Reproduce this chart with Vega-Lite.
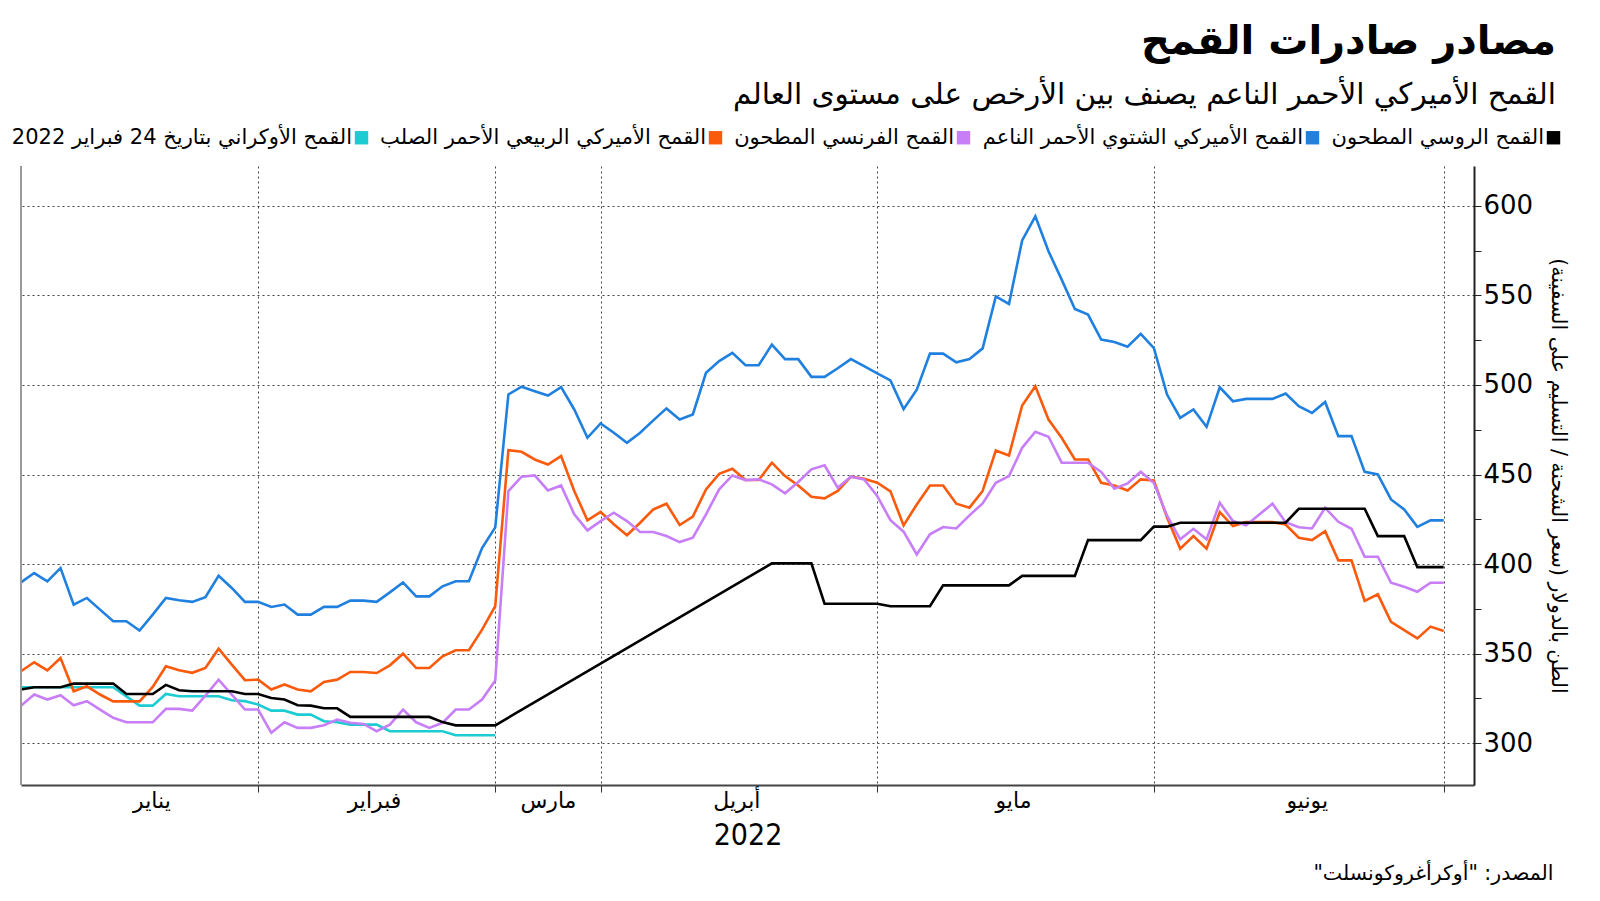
{
  "$schema": "https://vega.github.io/schema/vega-lite/v6.json",
  "width": 1453,
  "height": 619,
  "autosize": {"type": "none"},
  "padding": {"left": 21, "top": 166, "right": 126, "bottom": 116},
  "background": "white",
  "config": {"view": {"stroke": null}, "font": "DejaVu Sans"},
  "title": {
    "text": "مصادر صادرات القمح",
    "subtitle": "القمح الأميركي الأحمر الناعم يصنف بين الأرخص على مستوى العالم",
    "anchor": "end",
    "frame": "group",
    "dx": 82,
    "font": "DejaVu Sans",
    "fontSize": 40,
    "fontWeight": "bold",
    "color": "#000000",
    "subtitleFont": "DejaVu Sans",
    "subtitleFontSize": 29.5,
    "subtitleColor": "#000000",
    "subtitlePadding": 19,
    "offset": 18
  },
  "data": {
    "values": [
      {"i":0,"ru":330.0,"srw":389.8,"fr":321.0,"hrs":340.2,"ua":331.3},
      {"i":1,"ru":331.3,"srw":395.0,"fr":327.2,"hrs":345.2,"ua":331.3},
      {"i":2,"ru":331.3,"srw":390.4,"fr":324.4,"hrs":340.7,"ua":331.3},
      {"i":3,"ru":331.3,"srw":397.8,"fr":326.8,"hrs":347.6,"ua":331.3},
      {"i":4,"ru":333.3,"srw":377.4,"fr":321.2,"hrs":329.0,"ua":331.3},
      {"i":5,"ru":333.3,"srw":381.1,"fr":323.5,"hrs":331.8,"ua":331.3},
      {"i":6,"ru":333.3,"srw":374.6,"fr":318.8,"hrs":327.2,"ua":331.3},
      {"i":7,"ru":333.3,"srw":368.1,"fr":314.2,"hrs":323.4,"ua":331.3},
      {"i":8,"ru":327.5,"srw":368.1,"fr":311.7,"hrs":323.4,"ua":326.2},
      {"i":9,"ru":327.5,"srw":362.9,"fr":311.7,"hrs":323.4,"ua":321.0},
      {"i":10,"ru":327.5,"srw":371.8,"fr":311.7,"hrs":331.4,"ua":321.0},
      {"i":11,"ru":332.6,"srw":381.1,"fr":319.2,"hrs":343.0,"ua":327.5},
      {"i":12,"ru":329.6,"srw":379.8,"fr":319.2,"hrs":340.7,"ua":326.2},
      {"i":13,"ru":329.0,"srw":378.9,"fr":318.2,"hrs":339.3,"ua":326.2},
      {"i":14,"ru":329.0,"srw":381.5,"fr":326.6,"hrs":342.0,"ua":326.2},
      {"i":15,"ru":329.0,"srw":393.5,"fr":335.5,"hrs":352.8,"ua":326.2},
      {"i":16,"ru":329.0,"srw":386.7,"fr":327.2,"hrs":343.9,"ua":324.0},
      {"i":17,"ru":327.5,"srw":378.9,"fr":318.8,"hrs":335.2,"ua":323.5},
      {"i":18,"ru":327.5,"srw":378.9,"fr":318.8,"hrs":335.5,"ua":321.6},
      {"i":19,"ru":325.3,"srw":376.1,"fr":305.8,"hrs":330.0,"ua":318.2},
      {"i":20,"ru":324.4,"srw":377.4,"fr":311.7,"hrs":332.8,"ua":318.2},
      {"i":21,"ru":321.2,"srw":371.8,"fr":308.6,"hrs":330.0,"ua":316.0},
      {"i":22,"ru":321.0,"srw":371.8,"fr":308.6,"hrs":329.0,"ua":316.0},
      {"i":23,"ru":319.5,"srw":376.1,"fr":310.1,"hrs":334.2,"ua":312.3},
      {"i":24,"ru":319.5,"srw":376.1,"fr":313.2,"hrs":335.5,"ua":311.7},
      {"i":25,"ru":314.7,"srw":379.6,"fr":311.4,"hrs":339.8,"ua":310.4},
      {"i":26,"ru":314.7,"srw":379.6,"fr":310.8,"hrs":339.8,"ua":310.4},
      {"i":27,"ru":314.7,"srw":378.9,"fr":306.7,"hrs":339.2,"ua":310.4},
      {"i":28,"ru":314.7,"srw":384.2,"fr":310.4,"hrs":343.5,"ua":306.7},
      {"i":29,"ru":314.7,"srw":389.8,"fr":318.8,"hrs":350.0,"ua":306.7},
      {"i":30,"ru":314.7,"srw":382.0,"fr":311.7,"hrs":342.0,"ua":306.7},
      {"i":31,"ru":314.7,"srw":382.0,"fr":308.6,"hrs":342.0,"ua":306.7},
      {"i":32,"ru":311.8,"srw":387.6,"fr":311.4,"hrs":348.5,"ua":306.7},
      {"i":33,"ru":310.0,"srw":390.4,"fr":318.8,"hrs":351.9,"ua":304.5},
      {"i":34,"ru":310.0,"srw":390.4,"fr":318.8,"hrs":351.9,"ua":304.5},
      {"i":35,"ru":310.0,"srw":409.0,"fr":324.4,"hrs":363.4,"ua":304.5},
      {"i":36,"ru":310.0,"srw":420.5,"fr":335.0,"hrs":376.5,"ua":304.5},
      {"i":37,"srw":494.7,"fr":440.8,"hrs":463.6},
      {"i":38,"srw":499.0,"fr":448.8,"hrs":462.7},
      {"i":39,"srw":496.5,"fr":449.5,"hrs":458.4},
      {"i":40,"srw":494.1,"fr":441.1,"hrs":455.6},
      {"i":41,"srw":498.8,"fr":443.9,"hrs":460.3},
      {"i":42,"srw":486.3,"fr":427.8,"hrs":440.8},
      {"i":43,"srw":470.5,"fr":418.8,"hrs":424.4},
      {"i":44,"srw":478.5,"fr":424.0,"hrs":429.1},
      {"i":45,"srw":473.3,"fr":428.7,"hrs":422.2},
      {"i":46,"srw":467.7,"fr":424.0,"hrs":416.1},
      {"i":47,"srw":473.3,"fr":417.9,"hrs":423.1},
      {"i":48,"srw":480.2,"fr":417.9,"hrs":430.5},
      {"i":49,"srw":486.9,"fr":415.7,"hrs":433.7},
      {"i":50,"srw":480.7,"fr":412.3,"hrs":421.8},
      {"i":51,"srw":483.5,"fr":414.7,"hrs":426.5},
      {"i":52,"srw":506.8,"fr":427.8,"hrs":441.7},
      {"i":53,"srw":513.3,"fr":441.7,"hrs":450.4},
      {"i":54,"srw":517.9,"fr":449.5,"hrs":453.2},
      {"i":55,"srw":511.0,"fr":446.9,"hrs":446.9},
      {"i":56,"srw":511.0,"fr":447.3,"hrs":446.9},
      {"i":57,"ru":400.4,"srw":522.5,"fr":444.5,"hrs":456.6},
      {"i":58,"ru":400.4,"srw":514.4,"fr":439.5,"hrs":449.1},
      {"i":59,"ru":400.4,"srw":514.4,"fr":445.8,"hrs":443.9},
      {"i":60,"ru":400.4,"srw":504.5,"fr":452.9,"hrs":437.6},
      {"i":61,"ru":377.9,"srw":504.5,"fr":455.1,"hrs":436.7},
      {"i":62,"ru":377.9,"srw":509.3,"fr":442.6,"hrs":440.8},
      {"i":63,"ru":377.9,"srw":514.4,"fr":448.8,"hrs":448.8},
      {"i":64,"ru":377.9,"srw":510.5,"fr":447.3,"hrs":447.6},
      {"i":65,"ru":377.9,"srw":506.5,"fr":438.0,"hrs":445.4},
      {"i":66,"ru":376.5,"srw":502.5,"fr":424.5,"hrs":440.6},
      {"i":67,"ru":376.5,"srw":486.5,"fr":418.1,"hrs":421.6},
      {"i":68,"ru":376.5,"srw":497.3,"fr":405.4,"hrs":433.3},
      {"i":69,"ru":376.5,"srw":517.5,"fr":416.6,"hrs":443.9},
      {"i":70,"ru":388.1,"srw":517.5,"fr":420.7,"hrs":443.9},
      {"i":71,"ru":388.1,"srw":512.6,"fr":419.9,"hrs":433.7},
      {"i":72,"ru":388.1,"srw":514.5,"fr":427.2,"hrs":431.5},
      {"i":73,"ru":388.1,"srw":520.4,"fr":433.9,"hrs":440.8},
      {"i":74,"ru":388.1,"srw":549.4,"fr":445.4,"hrs":463.4},
      {"i":75,"ru":388.1,"srw":545.2,"fr":449.1,"hrs":460.6},
      {"i":76,"ru":393.4,"srw":580.7,"fr":464.9,"hrs":488.5},
      {"i":77,"ru":393.4,"srw":594.1,"fr":473.9,"hrs":499.3},
      {"i":78,"ru":393.4,"srw":574.6,"fr":471.1,"hrs":480.7},
      {"i":79,"ru":393.4,"srw":558.8,"fr":456.6,"hrs":470.5},
      {"i":80,"ru":393.4,"srw":542.4,"fr":456.6,"hrs":458.4},
      {"i":81,"ru":413.4,"srw":539.3,"fr":456.6,"hrs":458.4},
      {"i":82,"ru":413.4,"srw":525.3,"fr":451.4,"hrs":445.4},
      {"i":83,"ru":413.4,"srw":524.0,"fr":442.1,"hrs":443.9},
      {"i":84,"ru":413.4,"srw":521.3,"fr":445.0,"hrs":441.1},
      {"i":85,"ru":413.4,"srw":528.5,"fr":451.5,"hrs":447.3},
      {"i":86,"ru":420.9,"srw":520.5,"fr":445.2,"hrs":446.7},
      {"i":87,"ru":420.9,"srw":494.6,"fr":427.0,"hrs":426.0},
      {"i":88,"ru":423.1,"srw":481.6,"fr":413.8,"hrs":408.6},
      {"i":89,"ru":423.1,"srw":486.3,"fr":419.7,"hrs":415.6},
      {"i":90,"ru":423.1,"srw":476.6,"fr":413.8,"hrs":408.6},
      {"i":91,"ru":423.1,"srw":498.7,"fr":434.2,"hrs":429.0},
      {"i":92,"ru":423.1,"srw":490.9,"fr":424.0,"hrs":421.2},
      {"i":93,"ru":423.1,"srw":492.2,"fr":421.6,"hrs":423.4},
      {"i":94,"ru":423.1,"srw":492.2,"fr":427.7,"hrs":423.4},
      {"i":95,"ru":423.1,"srw":492.2,"fr":433.7,"hrs":423.4},
      {"i":96,"ru":423.1,"srw":495.2,"fr":423.4,"hrs":422.1},
      {"i":97,"ru":430.9,"srw":488.1,"fr":420.6,"hrs":414.7},
      {"i":98,"ru":430.9,"srw":484.4,"fr":419.9,"hrs":413.4},
      {"i":99,"ru":430.9,"srw":490.5,"fr":431.4,"hrs":418.4},
      {"i":100,"ru":430.9,"srw":471.4,"fr":423.6,"hrs":402.1},
      {"i":101,"ru":430.9,"srw":471.4,"fr":419.7,"hrs":402.1},
      {"i":102,"ru":430.9,"srw":451.5,"fr":404.1,"hrs":379.4},
      {"i":103,"ru":415.6,"srw":450.0,"fr":404.1,"hrs":383.1},
      {"i":104,"ru":415.6,"srw":436.1,"fr":389.6,"hrs":367.8},
      {"i":105,"ru":415.6,"srw":430.5,"fr":387.4,"hrs":363.2},
      {"i":106,"ru":398.3,"srw":420.8,"fr":384.6,"hrs":358.5},
      {"i":107,"ru":398.3,"srw":424.4,"fr":389.6,"hrs":365.1},
      {"i":108,"ru":398.3,"srw":424.4,"fr":389.6,"hrs":362.6}
    ]
  },
  "resolve": {"axis": {"x": "independent"}},
  "layer": [
    {
      "transform": [
        {"fold": ["ua", "srw", "hrs", "fr", "ru"], "as": ["series", "price"]},
        {"filter": "isValid(datum.price)"}
      ],
      "mark": {"type": "line", "strokeWidth": 2.6, "invalid": "filter"},
      "encoding": {
        "x": {
          "field": "i",
          "type": "quantitative",
          "scale": {"domain": [0, 110.3], "nice": false, "zero": false},
          "axis": {
            "orient": "bottom",
            "values": [18, 36, 44, 65, 86, 108],
            "labels": false,
            "grid": true,
            "gridDash": [2, 3],
            "gridColor": "#444444",
            "gridWidth": 1,
            "ticks": true,
            "tickSize": 7,
            "tickColor": "#333333",
            "tickWidth": 1,
            "domain": true,
            "domainColor": "#444444",
            "domainWidth": 2,
            "title": "المصدر: \"أوكرأغروكونسلت\"‏",
            "titleFont": "DejaVu Sans",
            "titleFontSize": 20.5,
            "titleFontWeight": "normal",
            "titleColor": "#000000",
            "titleX": 1532,
            "titleY": 88,
            "titleAlign": "right",
            "titleBaseline": "middle"
          }
        },
        "y": {
          "field": "price",
          "type": "quantitative",
          "scale": {"domain": [276.7, 622.2], "nice": false, "zero": false},
          "axis": {
            "orient": "right",
            "values": [300, 325, 350, 375, 400, 425, 450, 475, 500, 525, 550, 575, 600],
            "labelExpr": "datum.value % 50 === 0 ? datum.label : ''",
            "labelOverlap": false,
            "grid": true,
            "gridDash": [2, 3],
            "gridColor": "#444444",
            "gridOpacity": {"condition": {"test": "datum.value % 50 === 0", "value": 1}, "value": 0},
            "tickSize": 7,
            "tickColor": "#222222",
            "domainColor": "#222222",
            "domainWidth": 2,
            "labelFont": "DejaVu Sans",
            "labelFontSize": 26,
            "labelColor": "#000000",
            "labelPadding": 2,
            "title": "الطن بالدولار (سعر الشحنة / التسليم على السفينة)‏",
            "titleFont": "DejaVu Sans",
            "titleFontSize": 20.5,
            "titleFontWeight": "normal",
            "titleColor": "#000000",
            "titlePadding": 15
          }
        },
        "color": {
          "field": "series",
          "type": "nominal",
          "scale": {
            "domain": ["ua", "hrs", "fr", "srw", "ru"],
            "range": ["#1dcbd2", "#fa5a0c", "#c77ef7", "#1f80df", "#000000"]
          },
          "legend": {
            "orient": "none",
            "legendX": 330,
            "legendY": -39,
            "direction": "horizontal",
            "columns": 5,
            "title": null,
            "symbolType": "square",
            "symbolSize": 180,
            "symbolStrokeWidth": 0,
            "labelAlign": "right",
            "labelOffset": -20,
            "labelLimit": 0,
            "labelFont": "DejaVu Sans",
            "labelFontSize": 21,
            "labelColor": "#000000",
            "columnPadding": 11,
            "padding": 0,
            "labelExpr": "datum.label === 'ru' ? 'القمح الروسي المطحون' : datum.label === 'srw' ? 'القمح الأميركي الشتوي الأحمر الناعم' : datum.label === 'fr' ? 'القمح الفرنسي المطحون' : datum.label === 'hrs' ? 'القمح الأميركي الربيعي الأحمر الصلب' : 'القمح الأوكراني بتاريخ 24 فبراير 2022'",
            "encode": {"symbols": {"update": {"fill": {"scale": "color", "field": "value"}, "strokeWidth": {"value": 0}}}}
          }
        }
      }
    },
    {
      "mark": {"type": "rule", "color": "#9a9a9a", "strokeWidth": 2},
      "encoding": {
        "x": {
          "datum": 0,
          "type": "quantitative",
          "axis": {
            "orient": "bottom",
            "values": [9.9, 26.8, 40, 54.3, 75.3, 97.6],
            "labelExpr": "datum.value === 9.9 ? 'يناير' : datum.value === 26.8 ? 'فبراير' : datum.value === 40 ? 'مارس' : datum.value === 54.3 ? 'أبريل' : datum.value === 75.3 ? 'مايو' : 'يونيو'",
            "labelOverlap": false,
            "ticks": false,
            "domain": false,
            "grid": false,
            "labelFont": "DejaVu Sans",
            "labelFontSize": 22,
            "labelColor": "#000000",
            "labelPadding": 5,
            "title": "2022",
            "titleFont": "DejaVu Sans Condensed",
            "titleFontSize": 30,
            "titleFontWeight": "normal",
            "titleColor": "#000000",
            "titlePadding": 9
          }
        }
      }
    }
  ]
}
